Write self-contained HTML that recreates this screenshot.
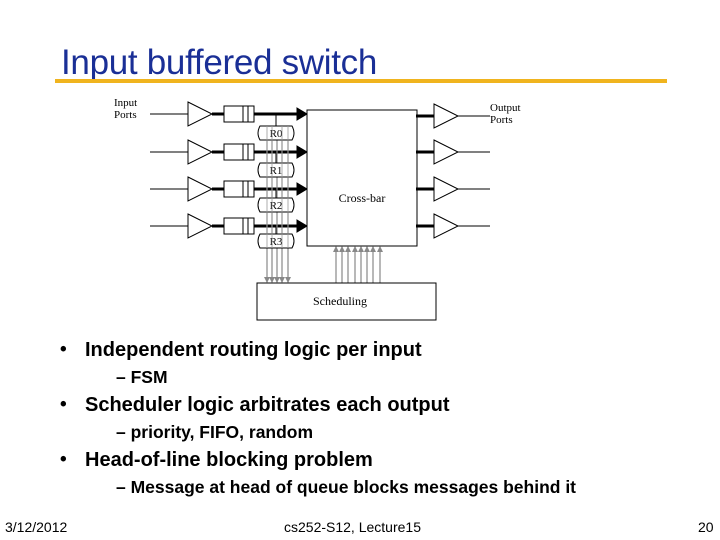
<!DOCTYPE html>
<html><head><style>
body{margin:0;width:720px;height:540px;background:#fff;position:relative;overflow:hidden;font-family:"Liberation Sans",Arial,sans-serif}
.t{position:absolute;white-space:nowrap;font-weight:bold;color:#000}
</style></head><body>
<div class="t" style="left:61px;top:43px;font-size:35px;font-weight:normal;color:#1a2f96;letter-spacing:-0.3px">Input buffered switch</div>
<div style="position:absolute;left:55px;top:79px;width:612px;height:4px;background:#f0b41e"></div>

<svg style="position:absolute;left:0;top:0" width="720" height="540" font-family="Liberation Serif,serif">
<defs><marker id="a" markerWidth="6" markerHeight="6" refX="5" refY="3" orient="auto" markerUnits="userSpaceOnUse"><path d="M0,0L6,3L0,6z" fill="#888"/></marker>
<g id="r" stroke="#000" fill="none">
<line x1="150" y1="0" x2="188" y2="0"/>
<path d="M188,-12L212,0L188,12z" fill="#fff"/>
<line x1="212" y1="0" x2="224" y2="0" stroke-width="3"/>
<rect x="224" y="-8" width="30" height="16" fill="#fff"/>
<line x1="243" y1="-8" x2="243" y2="8"/><line x1="248" y1="-8" x2="248" y2="8"/>
<line x1="254" y1="0" x2="297" y2="0" stroke-width="3"/>
<path d="M297,-6L307,0L297,6z" fill="#000"/>
<line x1="276" y1="0" x2="276" y2="12"/>
</g>
<g id="o" stroke="#000" fill="#fff"><line x1="416" y1="0" x2="434" y2="0" stroke-width="3"/><path d="M434,-12L458,0L434,12z"/><line x1="458" y1="0" x2="490" y2="0"/></g>
</defs>
<text x="114" y="106" font-size="11">Input</text><text x="114" y="118" font-size="11">Ports</text>
<text x="490" y="111" font-size="11">Output</text><text x="490" y="123" font-size="11">Ports</text>
<use href="#r" transform="translate(0,114)"/>
<use href="#r" transform="translate(0,152)"/>
<use href="#r" transform="translate(0,189)"/>
<use href="#r" transform="translate(0,226)"/>
<g stroke="#888" stroke-width="1.2" marker-end="url(#a)">
<line x1="267" y1="140" x2="267" y2="282"/><line x1="272" y1="140" x2="272" y2="282"/>
<line x1="277" y1="140" x2="277" y2="282"/><line x1="282" y1="140" x2="282" y2="282"/>
<line x1="288" y1="140" x2="288" y2="282"/>
</g>
<g stroke="#888" stroke-width="1.2" marker-end="url(#a)">
<line x1="336" y1="283" x2="336" y2="247"/><line x1="342" y1="283" x2="342" y2="247"/>
<line x1="348" y1="283" x2="348" y2="247"/><line x1="355" y1="283" x2="355" y2="247"/>
<line x1="361" y1="283" x2="361" y2="247"/><line x1="367" y1="283" x2="367" y2="247"/>
<line x1="373" y1="283" x2="373" y2="247"/><line x1="380" y1="283" x2="380" y2="247"/>
</g>
<g stroke="#000" fill="#fff">
<path d="M260,126H292Q296,133 292,140H260Q256,133 260,126z"/>
<path d="M260,163H292Q296,170 292,177H260Q256,170 260,163z"/>
<path d="M260,198H292Q296,205 292,212H260Q256,205 260,198z"/>
<path d="M260,234H292Q296,241 292,248H260Q256,241 260,234z"/>
</g>
<g font-size="11" text-anchor="middle">
<text x="276" y="137">R0</text><text x="276" y="174">R1</text><text x="276" y="209">R2</text><text x="276" y="245">R3</text>
</g>
<g stroke="#999" stroke-width="1" opacity="0.8">
<line x1="267" y1="126" x2="267" y2="248"/><line x1="272" y1="126" x2="272" y2="248"/>
<line x1="282" y1="126" x2="282" y2="248"/><line x1="288" y1="126" x2="288" y2="248"/>
</g>
<rect x="307" y="110" width="110" height="136" fill="#fff" stroke="#000"/>
<text x="362" y="202" font-size="12" text-anchor="middle">Cross-bar</text>
<rect x="257" y="283" width="179" height="37" fill="#fff" stroke="#000"/>
<text x="340" y="305" font-size="12" text-anchor="middle">Scheduling</text>
<use href="#o" transform="translate(0,116)"/>
<use href="#o" transform="translate(0,152)"/>
<use href="#o" transform="translate(0,189)"/>
<use href="#o" transform="translate(0,226)"/>
</svg>

<div class="t" style="left:60px;top:339px;font-size:19px">•</div>
<div class="t" style="left:85px;top:339px;font-size:20px">Independent routing logic per input</div>
<div class="t" style="left:116px;top:367px;font-size:17.5px">– FSM</div>
<div class="t" style="left:60px;top:394px;font-size:19px">•</div>
<div class="t" style="left:85px;top:394px;font-size:20px">Scheduler logic arbitrates each output</div>
<div class="t" style="left:116px;top:422px;font-size:17.5px">– priority, FIFO, random</div>
<div class="t" style="left:60px;top:449px;font-size:19px">•</div>
<div class="t" style="left:85px;top:449px;font-size:20px">Head-of-line blocking problem</div>
<div class="t" style="left:116px;top:477px;font-size:17.5px">– Message at head of queue blocks messages behind it</div>
<div class="t" style="left:5px;top:519px;font-size:14px;font-weight:normal">3/12/2012</div>
<div class="t" style="left:284px;top:519px;font-size:14px;font-weight:normal">cs252-S12, Lecture15</div>
<div class="t" style="left:698px;top:519px;font-size:14px;font-weight:normal">20</div>
</body></html>
